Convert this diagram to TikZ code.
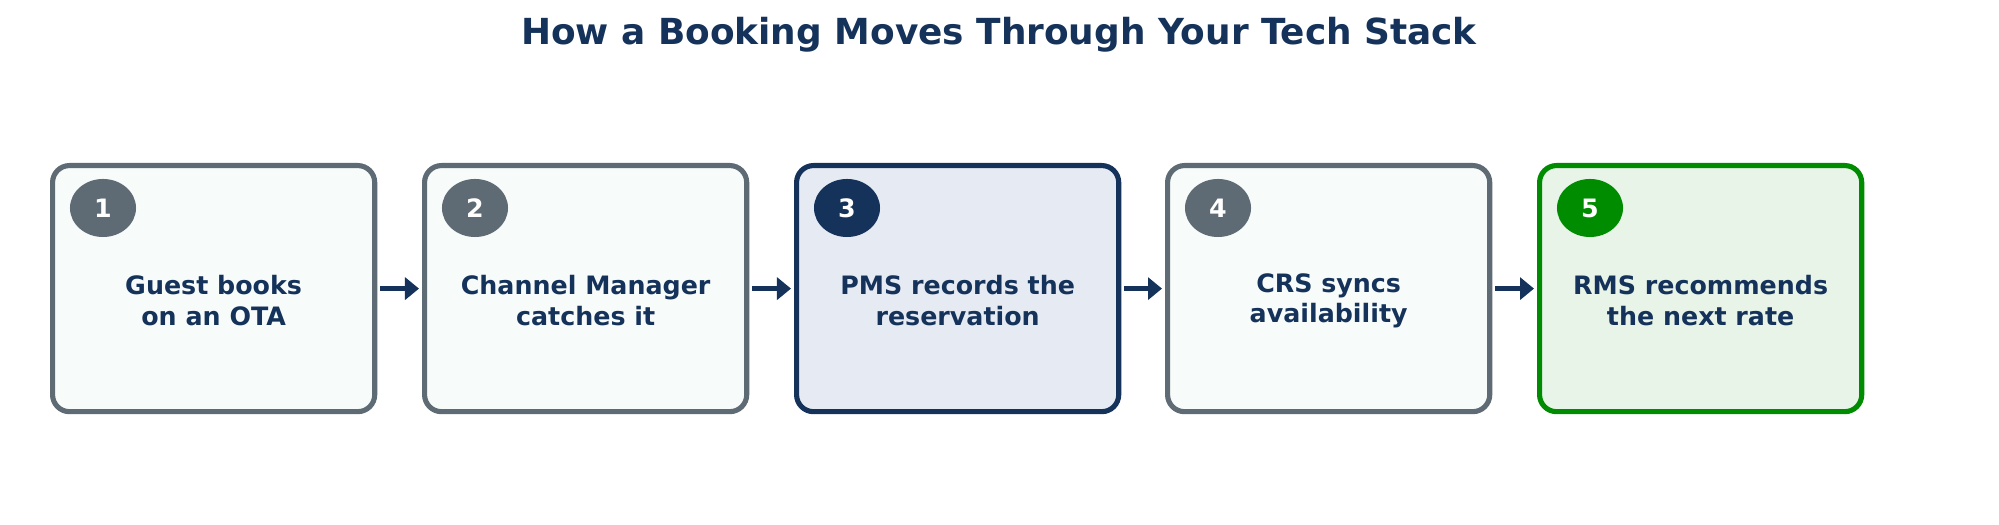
\documentclass[tikz,border=0pt]{standalone}
\usepackage{fontspec}
\setmainfont{DejaVu Sans}
\usetikzlibrary{arrows.meta,shapes.geometric}
\definecolor{navy}{HTML}{14325A}
\definecolor{gry}{HTML}{5E6A74}
\definecolor{grn}{HTML}{008C00}
\definecolor{fgray}{HTML}{F7FBFA}
\definecolor{fnavy}{HTML}{E6EBF3}
\definecolor{fgrn}{HTML}{E8F4E8}
\begin{document}
\begin{tikzpicture}[x=0.01cm,y=-0.01cm,
  box/.style={draw=#1,line width=1.45pt,rounded corners=0.17cm,minimum width=3.22cm,minimum height=2.46cm,anchor=north west},
  lbl/.style={text=navy,font=\bfseries\fontsize{7.2pt}{8.6pt}\selectfont,align=center},
  badge/.style={ellipse,fill=#1,minimum width=0.66cm,minimum height=0.58cm,inner sep=0pt,text=white,font=\bfseries\fontsize{7.2pt}{8pt}\selectfont},
  arr/.style={draw=navy,line width=1.6pt,-{Triangle[length=0.14cm,width=0.22cm]}}]
\useasboundingbox (0,0) rectangle (1999,525);
\node[text=navy,font=\bfseries\fontsize{10.2pt}{12pt}\selectfont] (title) at (999,35) {How a Booking Moves Through Your Tech Stack};
\node[box=gry,fill=fgray] (b1) at (50,163) {};
\node[box=gry,fill=fgray] (b2) at (422,163) {};
\node[box=navy,fill=fnavy] (b3) at (794,163) {};
\node[box=gry,fill=fgray] (b4) at (1165,163) {};
\node[box=grn,fill=fgrn] (b5) at (1537,163) {};
\node[lbl] (t1) at ([yshift=-0.12cm]b1.center) {Guest books\\on an OTA};
\node[lbl] (t2) at ([yshift=-0.12cm]b2.center) {Channel Manager\\catches it};
\node[lbl] (t3) at ([yshift=-0.12cm]b3.center) {PMS records the\\reservation};
\node[lbl] (t4) at ([yshift=-0.12cm]b4.center) {CRS syncs\\availability};
\node[lbl] (t5) at ([yshift=-0.12cm]b5.center) {RMS recommends\\the next rate};
\node[badge=gry] (n1) at (103,208) {1};
\node[badge=gry] (n2) at (475,208) {2};
\node[badge=navy] (n3) at (847,208) {3};
\node[badge=gry] (n4) at (1218,208) {4};
\node[badge=grn] (n5) at (1590,208) {5};
\draw[arr] ([xshift=0.03cm]b1.east) -- ([xshift=-0.03cm]b2.west);
\draw[arr] ([xshift=0.03cm]b2.east) -- ([xshift=-0.03cm]b3.west);
\draw[arr] ([xshift=0.03cm]b3.east) -- ([xshift=-0.03cm]b4.west);
\draw[arr] ([xshift=0.03cm]b4.east) -- ([xshift=-0.03cm]b5.west);
\end{tikzpicture}
\end{document}
